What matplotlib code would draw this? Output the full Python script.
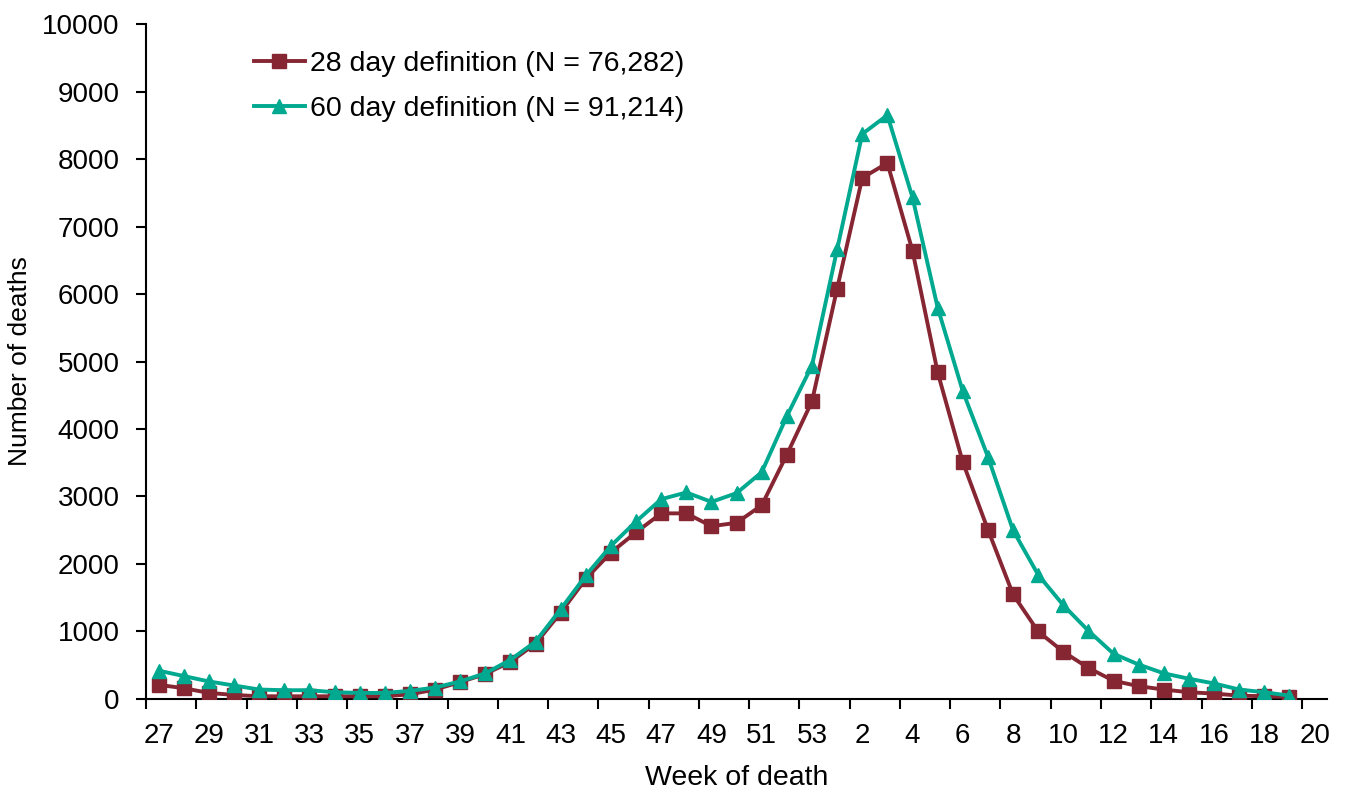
import matplotlib
matplotlib.use("Agg")
import matplotlib.pyplot as plt
from matplotlib.ticker import FixedLocator, MultipleLocator

weeks = [27, 28, 29, 30, 31, 32, 33, 34, 35, 36, 37, 38, 39, 40, 41, 42, 43, 44, 45, 46,
         47, 48, 49, 50, 51, 52, 53, 1, 2, 3, 4, 5, 6, 7, 8, 9, 10, 11, 12, 13, 14, 15,
         16, 17, 18, 19, 20]
deaths_28 = [210, 160, 90, 60, 40, 40, 40, 40, 40, 40, 70, 140, 250, 370, 550, 820, 1280,
             1780, 2170, 2470, 2750, 2750, 2560, 2610, 2870, 3620, 4410, 6080, 7720, 7940,
             6640, 4840, 3510, 2510, 1550, 1000, 700, 460, 270, 190, 140, 100, 80, 50, 40, 30]
deaths_60 = [420, 340, 260, 200, 140, 130, 130, 100, 90, 90, 120, 170, 260, 380, 580, 850,
             1330, 1830, 2270, 2630, 2960, 3060, 2920, 3050, 3360, 4190, 4940, 6660, 8370,
             8650, 7430, 5800, 4560, 3590, 2500, 1840, 1390, 1010, 670, 510, 380, 300, 230,
             140, 100, 50]
label_28 = "28 day definition (N = 76,282)"
label_60 = "60 day definition (N = 91,214)"

red = "#862633"
green = "#00A98F"

plt.rcParams['font.family'] = ['Liberation Sans', 'DejaVu Sans']

fig = plt.figure(figsize=(13.46, 7.90), dpi=100)
ax = fig.add_axes([0.1085, 0.1152, 0.8775, 0.8544])

x28 = list(range(len(deaths_28)))
x60 = list(range(len(deaths_60)))
ax.plot(x28, deaths_28, color=red, lw=2.8, marker="s", markersize=9.5, label=label_28,
        zorder=3)
ax.plot(x60, deaths_60, color=green, lw=2.8, marker="^", markersize=10.5, label=label_60,
        zorder=4)

ax.set_xlim(-0.5, len(weeks) - 0.5)
ax.set_ylim(0, 10000)

label_pos = list(range(0, len(weeks), 2))
ax.xaxis.set_major_locator(FixedLocator(label_pos))
ax.set_xticklabels([str(weeks[i]) for i in label_pos])
ax.xaxis.set_minor_locator(FixedLocator([p - 0.5 for p in label_pos]))
ax.tick_params(axis="x", which="major", length=0, labelsize=20, pad=17)
ax.tick_params(axis="x", which="minor", length=7, width=1.5, direction="out")
ax.yaxis.set_major_locator(MultipleLocator(1000))
ax.tick_params(axis="y", which="major", length=7, width=1.5, direction="out",
               labelsize=20, pad=12)

for s in ["top", "right"]:
    ax.spines[s].set_visible(False)
for s in ["left", "bottom"]:
    ax.spines[s].set_linewidth(1.5)

ax.set_xlabel("Week of death", fontsize=20.5, labelpad=12)
ax.set_ylabel("Number of deaths", fontsize=19, labelpad=7)

ax.legend(loc="upper left", bbox_to_anchor=(0.0696, 0.998), frameon=False, fontsize=20.5,
          handlelength=1.8, handletextpad=0.18, labelspacing=0.66)

fig.savefig("out.png", dpi=100)
